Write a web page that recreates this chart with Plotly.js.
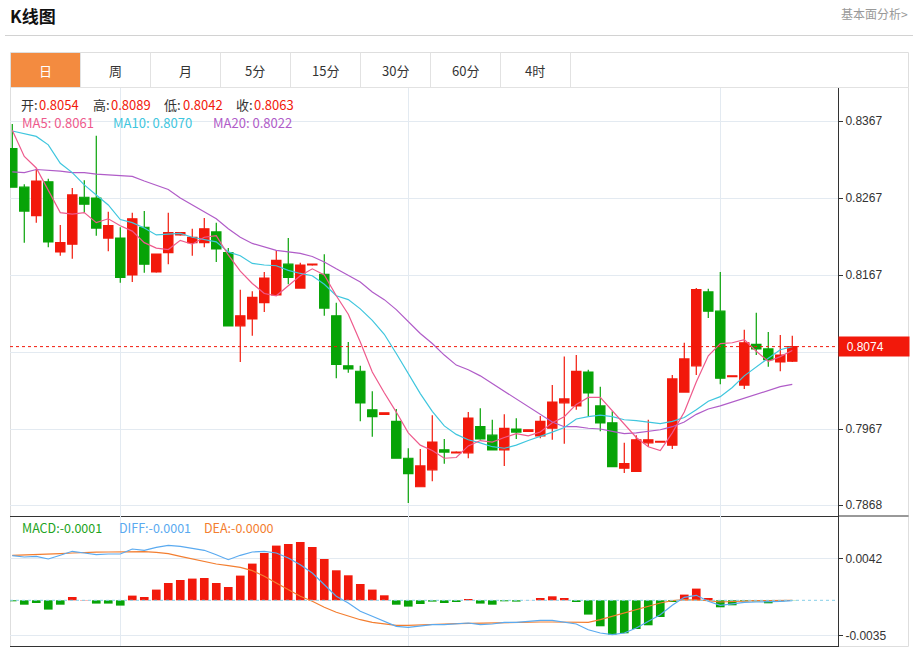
<!DOCTYPE html>
<html><head><meta charset="utf-8">
<script src="https://cdn.plot.ly/plotly-3.0.1.min.js"></script>
<style>html,body{margin:0;padding:0;background:#fff;}#chart{width:913px;height:649px;}</style>
</head><body><div id="chart"></div>
<script>
// ---------- data ----------
const openP=[0.8331,0.8281,0.8244,0.8288,0.8197,0.8207,0.8268,0.8267,0.8215,0.8215,
0.8167,0.8229,0.8171,0.8196,0.8219,0.8209,0.8209,0.8223,0.8196,0.8101,
0.8110,0.8131,0.8141,0.8181,0.8150,0.8180,0.8168,0.8114,0.8049,0.8042,
0.7992,0.7986,0.7977,0.7929,0.7892,0.7914,0.7940,0.7936,0.7936,0.7970,
0.7959,0.7940,0.7967,0.7964,0.7958,0.7968,0.8001,0.7997,0.8041,0.7997,
0.7975,0.7916,0.7912,0.7949,0.7950,0.7946,0.8015,0.8049,0.8145,0.8120,
0.8035,0.8024,0.8077,0.8071,0.8054,0.8055];
const highP=[0.8363,0.8285,0.8305,0.8292,0.8232,0.8280,0.8290,0.8348,0.8249,0.8229,
0.8248,0.8250,0.8195,0.8248,0.8223,0.8227,0.8241,0.8235,0.8202,0.8148,
0.8146,0.8171,0.8199,0.8215,0.8183,0.8182,0.8194,0.8131,0.8080,0.8049,
0.8016,0.7988,0.7993,0.7942,0.7941,0.7985,0.7954,0.7938,0.7989,0.7994,
0.7979,0.7986,0.7981,0.7966,0.7984,0.8024,0.8061,0.8063,0.8044,0.8022,
0.7990,0.7949,0.7959,0.7979,0.7951,0.8037,0.8079,0.8150,0.8149,0.8171,
0.8036,0.8096,0.8118,0.8093,0.8089,0.8088];
const lowP=[0.8281,0.8209,0.8235,0.8203,0.8192,0.8188,0.8248,0.8218,0.8198,0.8157,
0.8158,0.8170,0.8170,0.8181,0.8218,0.8192,0.8203,0.8184,0.8101,0.8054,
0.8088,0.8119,0.8141,0.8155,0.8149,0.8179,0.8114,0.8033,0.8040,0.7977,
0.7957,0.7986,0.7929,0.7871,0.7892,0.7899,0.7922,0.7936,0.7929,0.7953,
0.7940,0.7919,0.7954,0.7964,0.7955,0.7953,0.7948,0.7992,0.7984,0.7964,
0.7918,0.7910,0.7911,0.7944,0.7950,0.7941,0.8015,0.8037,0.8111,0.8025,
0.8035,0.8019,0.8063,0.8048,0.8042,0.8054];
const closeP=[0.8281,0.8250,0.8289,0.8210,0.8209,0.8271,0.8259,0.8228,0.8231,0.8164,
0.8240,0.8181,0.8194,0.8222,0.8222,0.8216,0.8227,0.8201,0.8101,0.8114,
0.8138,0.8163,0.8186,0.8164,0.8180,0.8181,0.8124,0.8051,0.8045,0.8001,
0.7983,0.7988,0.7929,0.7909,0.7919,0.7950,0.7937,0.7937,0.7981,0.7954,
0.7940,0.7968,0.7963,0.7966,0.7977,0.8002,0.8006,0.8042,0.8014,0.7975,
0.7918,0.7922,0.7953,0.7953,0.7951,0.8032,0.8058,0.8148,0.8120,0.8033,
0.8036,0.8079,0.8071,0.8057,0.8063,0.8074];
const ma5=[0.8355,0.8321,0.8306,0.8277,0.8248,0.8246,0.8248,0.8235,0.8240,0.8231,
0.8224,0.8209,0.8202,0.8200,0.8212,0.8207,0.8216,0.8218,0.8193,0.8172,
0.8156,0.8143,0.8140,0.8153,0.8166,0.8175,0.8167,0.8140,0.8116,0.8080,
0.8041,0.8014,0.7989,0.7962,0.7946,0.7939,0.7929,0.7930,0.7945,0.7952,
0.7950,0.7956,0.7961,0.7958,0.7963,0.7975,0.7983,0.7999,0.8008,0.8008,
0.7991,0.7974,0.7956,0.7944,0.7939,0.7962,0.7989,0.8028,0.8062,0.8078,
0.8079,0.8083,0.8068,0.8055,0.8061,0.8069];
const ma10=[0.8354,0.8350,0.8347,0.8336,0.8312,0.8300,0.8284,0.8271,0.8258,0.8239,
0.8235,0.8228,0.8219,0.8220,0.8221,0.8216,0.8213,0.8210,0.8197,0.8192,
0.8182,0.8180,0.8179,0.8173,0.8169,0.8166,0.8155,0.8140,0.8135,0.8123,
0.8108,0.8090,0.8065,0.8039,0.8013,0.7990,0.7971,0.7960,0.7953,0.7949,
0.7944,0.7942,0.7946,0.7952,0.7957,0.7963,0.7969,0.7980,0.7983,0.7985,
0.7983,0.7979,0.7978,0.7976,0.7974,0.7977,0.7982,0.7992,0.8003,0.8009,
0.8021,0.8036,0.8048,0.8059,0.8070,0.8074];
const ma20=[0.8301,0.8300,0.8304,0.8303,0.8302,0.8300,0.8300,0.8298,0.8297,0.8296,
0.8295,0.8289,0.8283,0.8278,0.8267,0.8258,0.8248,0.8240,0.8227,0.8216,
0.8208,0.8204,0.8199,0.8197,0.8195,0.8191,0.8184,0.8175,0.8166,0.8158,
0.8145,0.8135,0.8122,0.8106,0.8091,0.8078,0.8063,0.8050,0.8044,0.8036,
0.8026,0.8016,0.8005,0.7995,0.7985,0.7976,0.7970,0.7970,0.7968,0.7967,
0.7964,0.7961,0.7962,0.7964,0.7966,0.7970,0.7976,0.7986,0.7993,0.7997,
0.8002,0.8007,0.8013,0.8017,0.8022,0.8025];
const macdHist=[-0.0001,-0.00044,-0.00027,-0.00093,-0.00044,0.00033,0.00003,-0.00033,-0.00033,-0.00053,
0.00047,0.00033,0.00107,0.00173,0.00203,0.00217,0.00223,0.00173,0.00133,0.00247,
0.00367,0.00473,0.00547,0.00563,0.00583,0.00533,0.00413,0.0030,0.0025,0.00163,
0.00107,0.0005,-0.00044,-0.00063,-0.00037,-0.00013,-0.00027,-0.00017,0.00013,-0.00033,
-0.00044,-0.0001,-0.00013,0.00001,0.00023,0.0004,0.00023,-0.00017,-0.00143,-0.0026,
-0.00343,-0.0033,-0.00287,-0.0025,-0.00167,-0.00017,0.00057,0.00117,0.00023,-0.0007,
-0.0005,-0.0001,-0.0001,-0.0003,-0.0001,-0.00002];
const diffLine=[0.00446,0.00433,0.0044,0.00413,0.0045,0.0049,0.00473,0.00456,0.00463,0.00463,
0.00513,0.0050,0.0053,0.0055,0.0054,0.00523,0.0050,0.00456,0.00406,0.0045,
0.00483,0.0049,0.00473,0.00423,0.00356,0.00273,0.00156,0.0004,-0.00027,-0.0011,
-0.0016,-0.0021,-0.0026,-0.0027,-0.0026,-0.00244,-0.00244,-0.00237,-0.00227,-0.00244,
-0.00237,-0.0022,-0.0022,-0.0021,-0.0020,-0.0020,-0.00217,-0.00237,-0.00295,-0.00327,
-0.00344,-0.00327,-0.00277,-0.0021,-0.00144,-0.0005,0.0003,0.0005,-0.0001,-0.0005,
-0.00037,-0.0002,-0.00017,-0.00017,-0.0001,-0.00003];
const deaLine=[0.0045,0.00453,0.00457,0.0046,0.00467,0.00473,0.0048,0.00482,0.00483,0.00483,
0.0049,0.00487,0.0048,0.00467,0.0044,0.00413,0.0039,0.00363,0.00347,0.0033,
0.00297,0.0024,0.00173,0.00107,0.0004,-0.0001,-0.0007,-0.0012,-0.0016,-0.00194,
-0.0022,-0.00237,-0.0025,-0.0025,-0.00244,-0.00237,-0.00237,-0.00233,-0.0023,-0.00227,
-0.00223,-0.0022,-0.0022,-0.00217,-0.00217,-0.00217,-0.0022,-0.00223,-0.0022,-0.00194,
-0.0016,-0.00127,-0.00093,-0.0006,-0.00027,-0.00003,0.00007,0.00003,-0.00003,-0.00017,
-0.0001,-0.00007,-0.00003,-0.00003,-0.00003,0];
const yTickVals=[0.8367,0.8267,0.8167,0.8067,0.7967,0.7868];
const yTickText=['0.8367','0.8267','0.8167','0.8067','0.7967','0.7868'];
const macdTickVals=[0.0042,-0.0035];
const macdTickText=['0.0042','-0.0035'];
const tabLabels=['日','周','月','5分','15分','30分','60分','4时'];
const monthBreaks=[9,33,59];
const legendIndex=64;

// ---------- styles ----------
const RED='#f2190b', GREEN='#07a307', GRID='#e3eaf1';
const C_MA5='#ee5a8c', C_MA10='#3fc6de', C_MA20='#b05cc8';
const C_DIFF='#5aaaf0', C_DEA='#f37e30', C_MACD='#22a322';
const CJK='"Noto Sans CJK SC", "Noto Sans", sans-serif';
const NUM='"Liberation Sans", Arial, sans-serif';
const idx=closeP.map((_,i)=>i);
const lastPrice=closeP[closeP.length-1];
// pixel -> paper helpers for page furniture
const PX=p=>(p-10)/828, PY=p=>(646-p)/558;
const splitY=PY(516);

const traces=[
 {type:'candlestick',x:idx,open:openP,high:highP,low:lowP,close:closeP,
  increasing:{line:{color:RED,width:1.2},fillcolor:RED},
  decreasing:{line:{color:GREEN,width:1.2},fillcolor:GREEN},
  whiskerwidth:0,hoverinfo:'skip',xaxis:'x',yaxis:'y'},
 {type:'scatter',mode:'lines',x:idx,y:ma20,line:{color:C_MA20,width:1.2},hoverinfo:'skip',xaxis:'x',yaxis:'y'},
 {type:'scatter',mode:'lines',x:idx,y:ma10,line:{color:C_MA10,width:1.2},hoverinfo:'skip',xaxis:'x',yaxis:'y'},
 {type:'scatter',mode:'lines',x:idx,y:ma5,line:{color:C_MA5,width:1.2},hoverinfo:'skip',xaxis:'x',yaxis:'y'},
 {type:'bar',x:idx,y:macdHist,width:0.72,marker:{color:macdHist.map(v=>v>=0?RED:GREEN),line:{width:0}},hoverinfo:'skip',xaxis:'x2',yaxis:'y2'},
 {type:'scatter',mode:'lines',x:idx,y:deaLine,line:{color:C_DEA,width:1.2},hoverinfo:'skip',xaxis:'x2',yaxis:'y2'},
 {type:'scatter',mode:'lines',x:idx,y:diffLine,line:{color:C_DIFF,width:1.2},hoverinfo:'skip',xaxis:'x2',yaxis:'y2'}
];

const shapes=[];
shapes.push({type:'rect',xref:'paper',yref:'paper',x0:PX(10.5),x1:PX(908.5),y0:PY(646.5),y1:PY(52.5),line:{color:'#dedede',width:1},fillcolor:'rgba(0,0,0,0)',layer:'below'});
shapes.push({type:'line',xref:'paper',yref:'paper',x0:PX(5),x1:PX(913),y0:PY(35.5),y1:PY(35.5),line:{color:'#d2d2d2',width:1}});
shapes.push({type:'rect',xref:'paper',yref:'paper',x0:PX(11),x1:PX(80),y0:PY(87),y1:PY(53),fillcolor:'#f38b40',line:{width:0},layer:'below'});
shapes.push({type:'line',xref:'paper',yref:'paper',x0:PX(10),x1:PX(909),y0:PY(87.5),y1:PY(87.5),line:{color:'#e2e2e2',width:1}});
tabLabels.forEach((t,k)=>{
  shapes.push({type:'line',xref:'paper',yref:'paper',x0:PX(80.5+70*k),x1:PX(80.5+70*k),y0:PY(87),y1:PY(52.5),line:{color:'#e2e2e2',width:1}});
});
shapes.push({type:'line',xref:'paper',yref:'paper',x0:1,x1:PX(908.5),y0:splitY,y1:splitY,line:{color:'#333',width:1}});
shapes.push({type:'line',xref:'paper',yref:'y',x0:0,x1:1,y0:lastPrice,y1:lastPrice,line:{color:RED,width:1,dash:'dot'},layer:'above'});
shapes.push({type:'line',xref:'paper',yref:'y2',x0:0,x1:1,y0:0,y1:0,line:{color:'#86cfe8',width:1,dash:'3px,3px'},layer:'above'});

const ann=[];
function txt(s,xp,yp,color,size,fam,anchor){
  ann.push({text:s,xref:'paper',yref:'paper',x:PX(xp),y:PY(yp),xanchor:anchor||'left',yanchor:'middle',showarrow:false,borderpad:0,font:{color:color,size:size,family:fam||CJK}});
}
txt('<b>K线图</b>',9,15,'#111',17);
txt('基本面分析>',909,14,'#999',12,CJK,'right');
tabLabels.forEach((t,k)=>txt(t,45+70*k,70,k===0?'#fff':'#333',13,CJK,'center'));
const f4=v=>v.toFixed(4);
const L=legendIndex;
[['开:',openP[L],20,38],['高:',highP[L],91.5,110],['低:',lowP[L],163,182],['收:',closeP[L],235,253]].forEach(a=>{
  txt(a[0],a[2],104,'#333',13);
  txt(f4(a[1]),a[3],104,RED,13);
});
txt('MA5: '+f4(ma5[L]),20.5,122,C_MA5,13);
txt('MA10: '+f4(ma10[L]),111.5,122,C_MA10,13);
txt('MA20: '+f4(ma20[L]),211.5,122,C_MA20,13);
txt('MACD:'+f4(macdHist[L]),20.5,527,C_MACD,12.5);
txt('DIFF:'+f4(diffLine[L]),118,527,C_DIFF,12.5);
txt('DEA:'+f4(deaLine[L]),203,527,C_DEA,12.5);
ann.push({text:'\u00a0\u00a0'+f4(lastPrice),xref:'paper',yref:'y',x:1,y:lastPrice,xanchor:'left',yanchor:'middle',
  showarrow:false,bgcolor:RED,width:68,height:17,align:'left',valign:'middle',borderpad:1,
  font:{color:'#fff',size:12,family:NUM}});

const xBase={range:[-0.19,68.81],showticklabels:false,tickvals:monthBreaks,ticks:'',showgrid:true,gridcolor:GRID,gridwidth:1,
  zeroline:false,showline:true,linecolor:'#333',linewidth:1,fixedrange:true};
const layout={
  width:913,height:649,margin:{l:10,r:75,t:88,b:3,pad:0},
  paper_bgcolor:'#fff',plot_bgcolor:'rgba(0,0,0,0)',showlegend:false,
  font:{family:CJK,size:12,color:'#333'},
  boxgap:0.12,boxgroupgap:0.12,bargap:0.2,
  xaxis:Object.assign({},xBase,{domain:[0,1],anchor:'y',rangeslider:{visible:false}}),
  xaxis2:Object.assign({},xBase,{domain:[0,1],anchor:'y2'}),
  yaxis:{domain:[splitY,1],range:[0.785401,0.840986],side:'right',anchor:'x',tickvals:yTickVals,ticktext:yTickText,
    ticks:'outside',ticklen:4,tickcolor:'#333',showline:true,linecolor:'#333',linewidth:1,showgrid:true,gridcolor:GRID,
    zeroline:false,tickfont:{family:NUM,size:12,color:'#333'},fixedrange:true},
  yaxis2:{domain:[0,splitY],range:[-0.00457,0.00843],side:'right',anchor:'x2',tickvals:macdTickVals,ticktext:macdTickText,
    ticks:'outside',ticklen:4,tickcolor:'#333',showline:true,linecolor:'#333',linewidth:1,showgrid:true,gridcolor:GRID,
    zeroline:false,tickfont:{family:NUM,size:12,color:'#333'},fixedrange:true},
  shapes:shapes,annotations:ann
};
Plotly.newPlot('chart',traces,layout,{staticPlot:true,displayModeBar:false});
</script></body></html>
